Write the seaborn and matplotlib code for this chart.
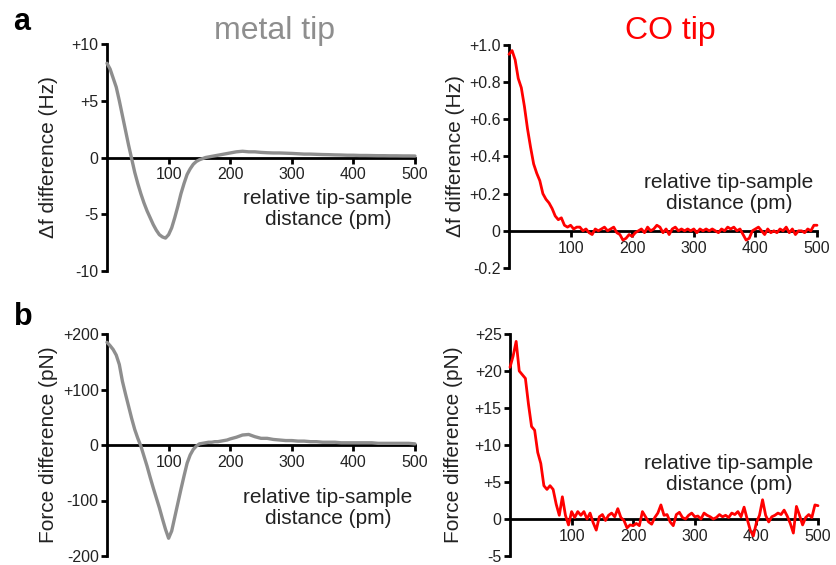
import numpy as np
import pandas as pd
import matplotlib
matplotlib.use('Agg')
import matplotlib.pyplot as plt
import seaborn as sns

# distance grids (pm)
dist_metal = list(range(0, 200, 5)) + list(range(200, 501, 10))
dist_co = list(range(0, 501, 5))

# metal tip, frequency shift difference (Hz)
df_metal = [8.3, 7.8, 7.0, 6.2, 5.0, 3.7, 2.4, 1.1, -0.1, -1.3,
            -2.3, -3.2, -4.0, -4.7, -5.3, -5.9, -6.4, -6.8, -7.0, -7.1,
            -6.8, -6.2, -5.3, -4.3, -3.2, -2.3, -1.5, -1.0, -0.6, -0.35,
            -0.2, -0.1, 0.0, 0.05, 0.1, 0.15, 0.2, 0.25, 0.3, 0.35,
            0.4, 0.5, 0.55, 0.5, 0.5, 0.45, 0.42, 0.4, 0.4, 0.38,
            0.36, 0.33, 0.3, 0.3, 0.28, 0.26, 0.25, 0.23, 0.22, 0.2,
            0.2, 0.18, 0.18, 0.17, 0.16, 0.16, 0.15, 0.15, 0.14, 0.14, 0.13]

# metal tip, force difference (pN)
force_metal = [185, 179, 172, 162, 145, 115, 92, 70, 48, 28,
               12, -2, -20, -38, -58, -77, -95, -113, -133, -152,
               -168, -155, -130, -105, -80, -56, -33, -18, -8, -2,
               2, 3, 4, 5, 5, 6, 6, 7, 8, 9,
               11, 14, 18, 19, 15, 12, 12, 10, 9, 8,
               8, 7, 7, 6, 6, 5, 5, 5, 4, 4,
               4, 4, 4, 4, 3, 3, 3, 3, 3, 3, 2]

# CO tip, frequency shift difference (Hz)
df_co = [0.95, 0.97, 0.92, 0.82, 0.77, 0.67, 0.55, 0.45, 0.36, 0.31,
         0.27, 0.20, 0.17, 0.15, 0.12, 0.08, 0.06, 0.07, 0.03, 0.02,
         0.03, 0.01, 0.02, 0.02, 0.00, 0.01, -0.01, -0.02, 0.01, 0.00,
         0.01, 0.02, 0.00, 0.01, 0.02, -0.01, -0.02, -0.05, -0.04, -0.02,
         -0.03, -0.01, 0.00, 0.01, -0.01, 0.02, 0.00, 0.01, 0.03, 0.02,
         -0.01, 0.01, -0.02, 0.01, 0.02, 0.00, 0.01, 0.00, 0.01, 0.00,
         0.01, -0.01, 0.01, 0.00, 0.01, 0.00, 0.01, 0.00, -0.01, 0.01,
         0.00, 0.02, 0.01, 0.02, 0.00, 0.01, -0.02, -0.05, -0.04, 0.00,
         0.01, 0.02, 0.00, -0.02, 0.01, -0.01, 0.00, -0.01, 0.01, 0.00,
         0.02, -0.01, 0.01, -0.02, 0.00, 0.00, -0.01, 0.01, 0.00, 0.03, 0.03]

# CO tip, force difference (pN)
force_co = [20.5, 22.0, 24.0, 20.0, 19.5, 19.0, 15.5, 12.5, 12.0, 9.0,
            7.5, 4.5, 4.0, 4.5, 4.0, 2.0, 0.5, 3.0, 0.5, -0.8,
            1.0, 0.2, 1.0, 0.5, 1.0, 0.0, 0.8, -0.5, -1.5, 0.3,
            0.6, -0.2, 0.5, 0.8, 0.3, 1.4, 0.2, -0.2, -1.2, -0.8,
            -0.9, -0.6, -0.9, 1.0, 0.3, -0.4, -0.7, 0.2, 0.8, 1.9,
            0.5, 0.6, -0.4, -0.9, 0.6, 0.9, 0.2, 0.0, 0.5, 0.8,
            0.3, 0.4, 0.0, 0.8, 0.5, 0.3, 0.0, 0.2, 0.6, 0.3,
            0.5, 0.2, 0.8, 0.6, 1.0, 0.3, 1.6, 0.0, -1.5, -2.3,
            -0.5, 0.5, 2.6, 0.5, -0.4, 0.3, 0.5, 0.8, 0.6, 1.2,
            0.4, -0.6, -1.9, 1.7, 0.5, -0.8, 0.2, 0.6, 0.2, 1.9, 1.8]

xticks = [100, 200, 300, 400, 500]
yticks_df_metal = [-10, -5, 0, 5, 10]
ylabels_df_metal = ['-10', '-5', '0', '+5', '+10']
yticks_df_co = [-0.2, 0, 0.2, 0.4, 0.6, 0.8, 1.0]
ylabels_df_co = ['-0.2', '0', '+0.2', '+0.4', '+0.6', '+0.8', '+1.0']
yticks_f_metal = [-200, -100, 0, 100, 200]
ylabels_f_metal = ['-200', '-100', '0', '+100', '+200']
yticks_f_co = [-5, 0, 5, 10, 15, 20, 25]
ylabels_f_co = ['-5', '0', '+5', '+10', '+15', '+20', '+25']

sns.set_style('ticks')
plt.rcParams['font.family'] = ['Liberation Sans', 'DejaVu Sans']

W, H = 836, 565
fig = plt.figure(figsize=(W / 100, H / 100), dpi=100)

GRAY = '#8e8e8e'
RED = '#ff0000'
TXT = '#222222'


def add_ax(left, right, top, bottom):
    return fig.add_axes([left / W, 1 - bottom / H, (right - left) / W, (bottom - top) / H])


def style_panel(ax, ylim, yticks, ylabels, ylabel, label_x):
    ax.set_xlim(0, 500)
    ax.set_ylim(*ylim)
    for s in ['top', 'right']:
        ax.spines[s].set_visible(False)
    ax.spines['bottom'].set_position(('data', 0))
    for s in ['left', 'bottom']:
        ax.spines[s].set_color('black')
        ax.spines[s].set_linewidth(2.0)
    ax.set_xticks(xticks)
    ax.set_xticklabels([str(t) for t in xticks])
    ax.set_yticks(yticks)
    ax.set_yticklabels(ylabels)
    ax.tick_params(axis='both', direction='out', length=4, width=2, color='black',
                   labelsize=11.5, labelcolor=TXT, pad=2)
    ax.tick_params(axis='x', bottom=True, top=False, pad=3)
    ax.tick_params(axis='y', left=True, right=False)
    ax.set_xlabel('')
    ax.set_ylabel(ylabel, fontsize=15, color=TXT)
    ax.yaxis.set_label_coords(label_x, 0.5)
    ax.patch.set_alpha(0)


panels = [
    (add_ax(107, 415, 44, 271), dist_metal, df_metal, GRAY, 2.4,
     (-10, 10), yticks_df_metal, ylabels_df_metal, 'Δf difference (Hz)', -0.159),
    (add_ax(509, 817, 45, 268), dist_co, df_co, RED, 2.0,
     (-0.2, 1.0), yticks_df_co, ylabels_df_co, 'Δf difference (Hz)', -0.143),
    (add_ax(107, 415, 334, 556), dist_metal, force_metal, GRAY, 2.4,
     (-200, 200), yticks_f_metal, ylabels_f_metal, 'Force difference (pN)', -0.159),
    (add_ax(510, 818, 334, 556), dist_co, force_co, RED, 2.0,
     (-5, 25), yticks_f_co, ylabels_f_co, 'Force difference (pN)', -0.153),
]

for ax, xs, ys, col, lw, ylim, yt, yl, ylab, lx in panels:
    data = pd.DataFrame({'distance': xs, 'value': ys})
    sns.lineplot(data=data, x='distance', y='value', ax=ax, color=col,
                 linewidth=lw, zorder=3, clip_on=False)
    style_panel(ax, ylim, yt, yl, ylab, lx)

# x axis captions placed beside the curves
for cx, cy in [(328, 209), (729, 193), (328, 508), (729, 474)]:
    fig.text(cx / W, 1 - cy / H, 'relative tip-sample\ndistance (pm)', ha='center',
             va='center', fontsize=15, color=TXT, linespacing=1.15)

# column titles
fig.text(274 / W, 1 - 31 / H, 'metal tip', ha='center', va='center', fontsize=23, color=GRAY)
fig.text(670 / W, 1 - 31 / H, 'CO tip', ha='center', va='center', fontsize=23, color=RED)

# panel letters
fig.text(22 / W, 1 - 22 / H, 'a', ha='center', va='center', fontsize=22, fontweight='bold', color='black')
fig.text(23 / W, 1 - 317 / H, 'b', ha='center', va='center', fontsize=22, fontweight='bold', color='black')

fig.savefig('out.png', dpi=100)
